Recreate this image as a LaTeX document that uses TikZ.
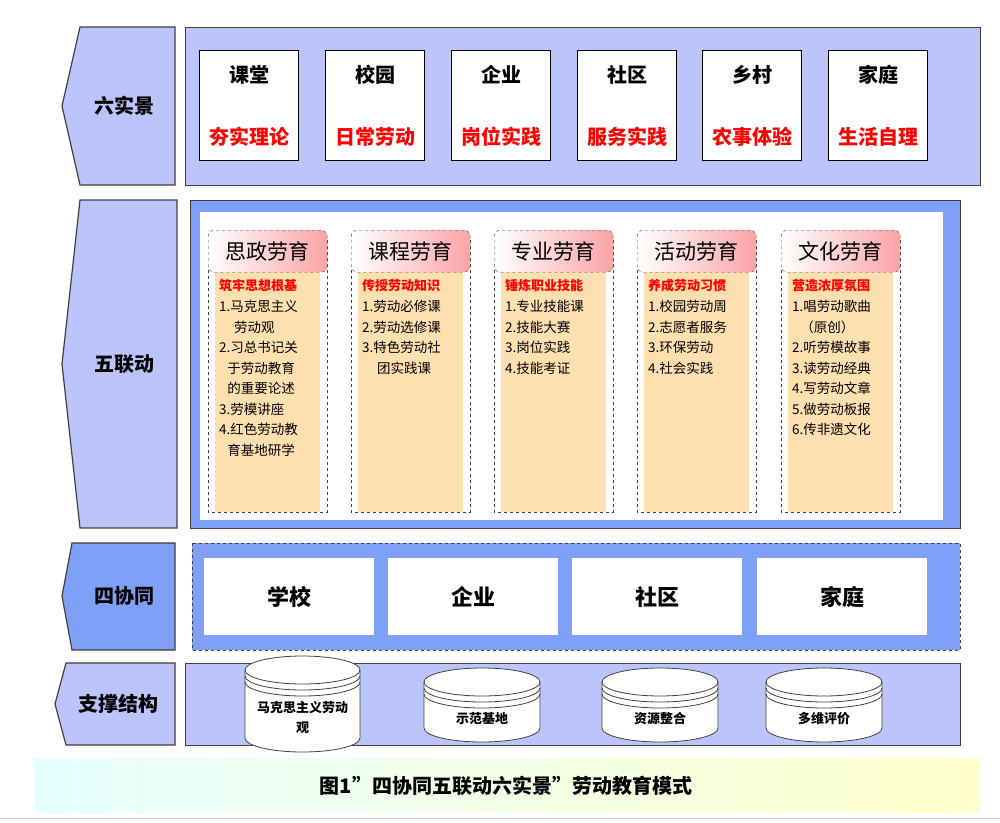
\documentclass[tikz,border=0pt]{standalone}
\usepackage{fontspec}
\setmainfont{Noto Sans CJK SC}
\usetikzlibrary{shapes.geometric}
\definecolor{lav}{HTML}{BCC5FB}
\definecolor{blu}{HTML}{7FA0F6}
\definecolor{org}{HTML}{FEDFAF}
\definecolor{pnk}{HTML}{FCA3A6}
\definecolor{edge}{HTML}{404040}
\tikzset{
 tab/.style={draw=edge,line width=1.2pt},
 panel/.style={draw=edge,line width=0.8pt},
 scene/.style={draw=black,line width=1.2pt,fill=white,minimum width=99pt,minimum height=110pt,anchor=north west},
 tabtxt/.style={font=\fontsize{20}{24}\selectfont\bfseries},
 coltxt/.style={font=\fontsize{13.5}{20.5}\selectfont,align=left,anchor=north west,inner sep=0pt},
 hdr/.style={draw=edge,dashed,rounded corners=6pt,left color=white,right color=pnk,minimum width=119pt,minimum height=42pt,anchor=north west,font=\fontsize{21}{24}\selectfont},
 partner/.style={fill=white,minimum width=170pt,minimum height=77pt,anchor=north west,font=\fontsize{22}{24}\selectfont\bfseries},
 cyltxt/.style={font=\fontsize{13}{20}\selectfont\bfseries,align=center}
}
\newcommand\mycyl[6]{% x1 x2 ytop ybot name text
 \pgfmathsetmacro\cx{(#1+#2)/2}\pgfmathsetmacro\rx{(#2-#1)/2}
 \draw[draw=edge,fill=white,line width=0.8pt] (#1,#3) -- (#1,#4) arc[start angle=180,end angle=0,x radius=\rx,y radius=14] -- (#2,#3) arc[start angle=0,end angle=-180,x radius=\rx,y radius=14];
 \draw[draw=edge,line width=0.8pt] (#1,#3) arc[start angle=180,end angle=0,x radius=\rx,y radius=14];
 \draw[draw=edge,line width=0.8pt] (#1,#3+6) arc[start angle=180,end angle=0,x radius=\rx,y radius=14];
 \draw[draw=edge,line width=0.8pt] (#1,#3+12) arc[start angle=180,end angle=0,x radius=\rx,y radius=14];
 \node[cyltxt] (#5) at (\cx,{(#3+#4)/2+14}) {#6};}
\begin{document}
\begin{tikzpicture}[x=1pt,y=-1pt]
\useasboundingbox (0,0) rectangle (1000,822);
% row 1
\draw[tab,fill=lav] (175,27) -- (80,27) -- (62,106) -- (80,185) -- (175,185) -- cycle;
\node[tabtxt] (t1) at (124,106) {六实景};
\draw[panel,fill=lav] (185,27) rectangle (980,185);
\foreach \x/\a/\b [count=\i] in {199/课堂/夯实理论,325/校园/日常劳动,451/企业/岗位实践,577/社区/服务实践,702/乡村/农事体验,828/家庭/生活自理}{
 \node[scene] (s\i) at (\x,50) {};
 \node[font=\fontsize{20}{24}\selectfont\bfseries] (sa\i) at ([yshift=-25pt]s\i.north) {\a};
 \node[font=\fontsize{20}{24}\selectfont\bfseries,text=red] (sb\i) at ([yshift=-87pt]s\i.north) {\b};
}
% row 2
\draw[tab,fill=lav] (177,200) -- (80,200) -- (62,364) -- (80,528) -- (177,528) -- cycle;
\node[tabtxt] (t2) at (124,364) {五联动};
\draw[panel,fill=blu] (190,200) rectangle (960,528);
\fill[white] (200,212) rectangle (943,520);
\foreach \x/\h/\r/\body [count=\i] in {
208/思政劳育/筑牢思想根基/{1.马克思主义\\\hspace{1.1em}劳动观\\2.习总书记关\\\hspace{0.6em}于劳动教育\\\hspace{0.6em}的重要论述\\3.劳模讲座\\4.红色劳动教\\\hspace{0.6em}育基地研学},
351/课程劳育/传授劳动知识/{1.劳动必修课\\2.劳动选修课\\3.特色劳动社\\\hspace{1.1em}团实践课},
494/专业劳育/锤炼职业技能/{1.专业技能课\\2.技能大赛\\3.岗位实践\\4.技能考证},
637/活动劳育/养成劳动习惯/{1.校园劳动周\\2.志愿者服务\\3.环保劳动\\4.社会实践},
781/文化劳育/营造浓厚氛围/{1.唱劳动歌曲\\\hspace{0.6em}（原创）\\2.听劳模故事\\3.读劳动经典\\4.写劳动文章\\5.做劳动板报\\6.传非遗文化}}{
 \fill[org] (\x+7,272) rectangle (\x+112,512);
 \draw[edge,dashed] (\x,240) -- (\x,512) -- (\x+119,512) -- (\x+119,240);
 \node[hdr] (h\i) at (\x,230) {\h};
 \node[coltxt,text=red,font=\fontsize{13}{20.5}\selectfont\bfseries] (r\i) at (\x+11,279) {\r};
 \node[coltxt] (b\i) at (\x+11,300) {\body};
}
% row 3
\draw[tab,fill=blu] (175,543) -- (72,543) -- (62,596) -- (72,650) -- (175,650) -- cycle;
\node[tabtxt] (t3) at (124,596) {四协同};
\draw[panel,dashed,fill=blu] (192,543) rectangle (960,650);
\foreach \x/\t [count=\i] in {204/学校,388/企业,572/社区,757/家庭}{
 \node[partner] (p\i) at (\x,558) {\t};}
% row 4
\draw[tab,fill=lav] (175,663) -- (66,663) -- (55,704) -- (66,745) -- (175,745) -- cycle;
\node[tabtxt] (t4) at (118,704) {支撑结构};
\draw[panel,fill=lav] (185,663) rectangle (960,745);
\mycyl{245}{360}{670}{738}{c1}{马克思主义劳动\\观}
\mycyl{424}{540}{682}{728}{c2}{示范基地}
\mycyl{602}{718}{682}{728}{c3}{资源整合}
\mycyl{766}{882}{682}{728}{c4}{多维评价}
% caption
\shade[left color=cyan!10,right color=yellow!20] (33,758) rectangle (980,812);
\node[font=\fontsize{20}{24}\selectfont\bfseries] (cap) at (506,786) {图1\char"22 四协同五联动六实景”劳动教育模式};
\draw[gray!40,line width=1pt] (0,818) -- (1000,818);
\end{tikzpicture}
\end{document}
